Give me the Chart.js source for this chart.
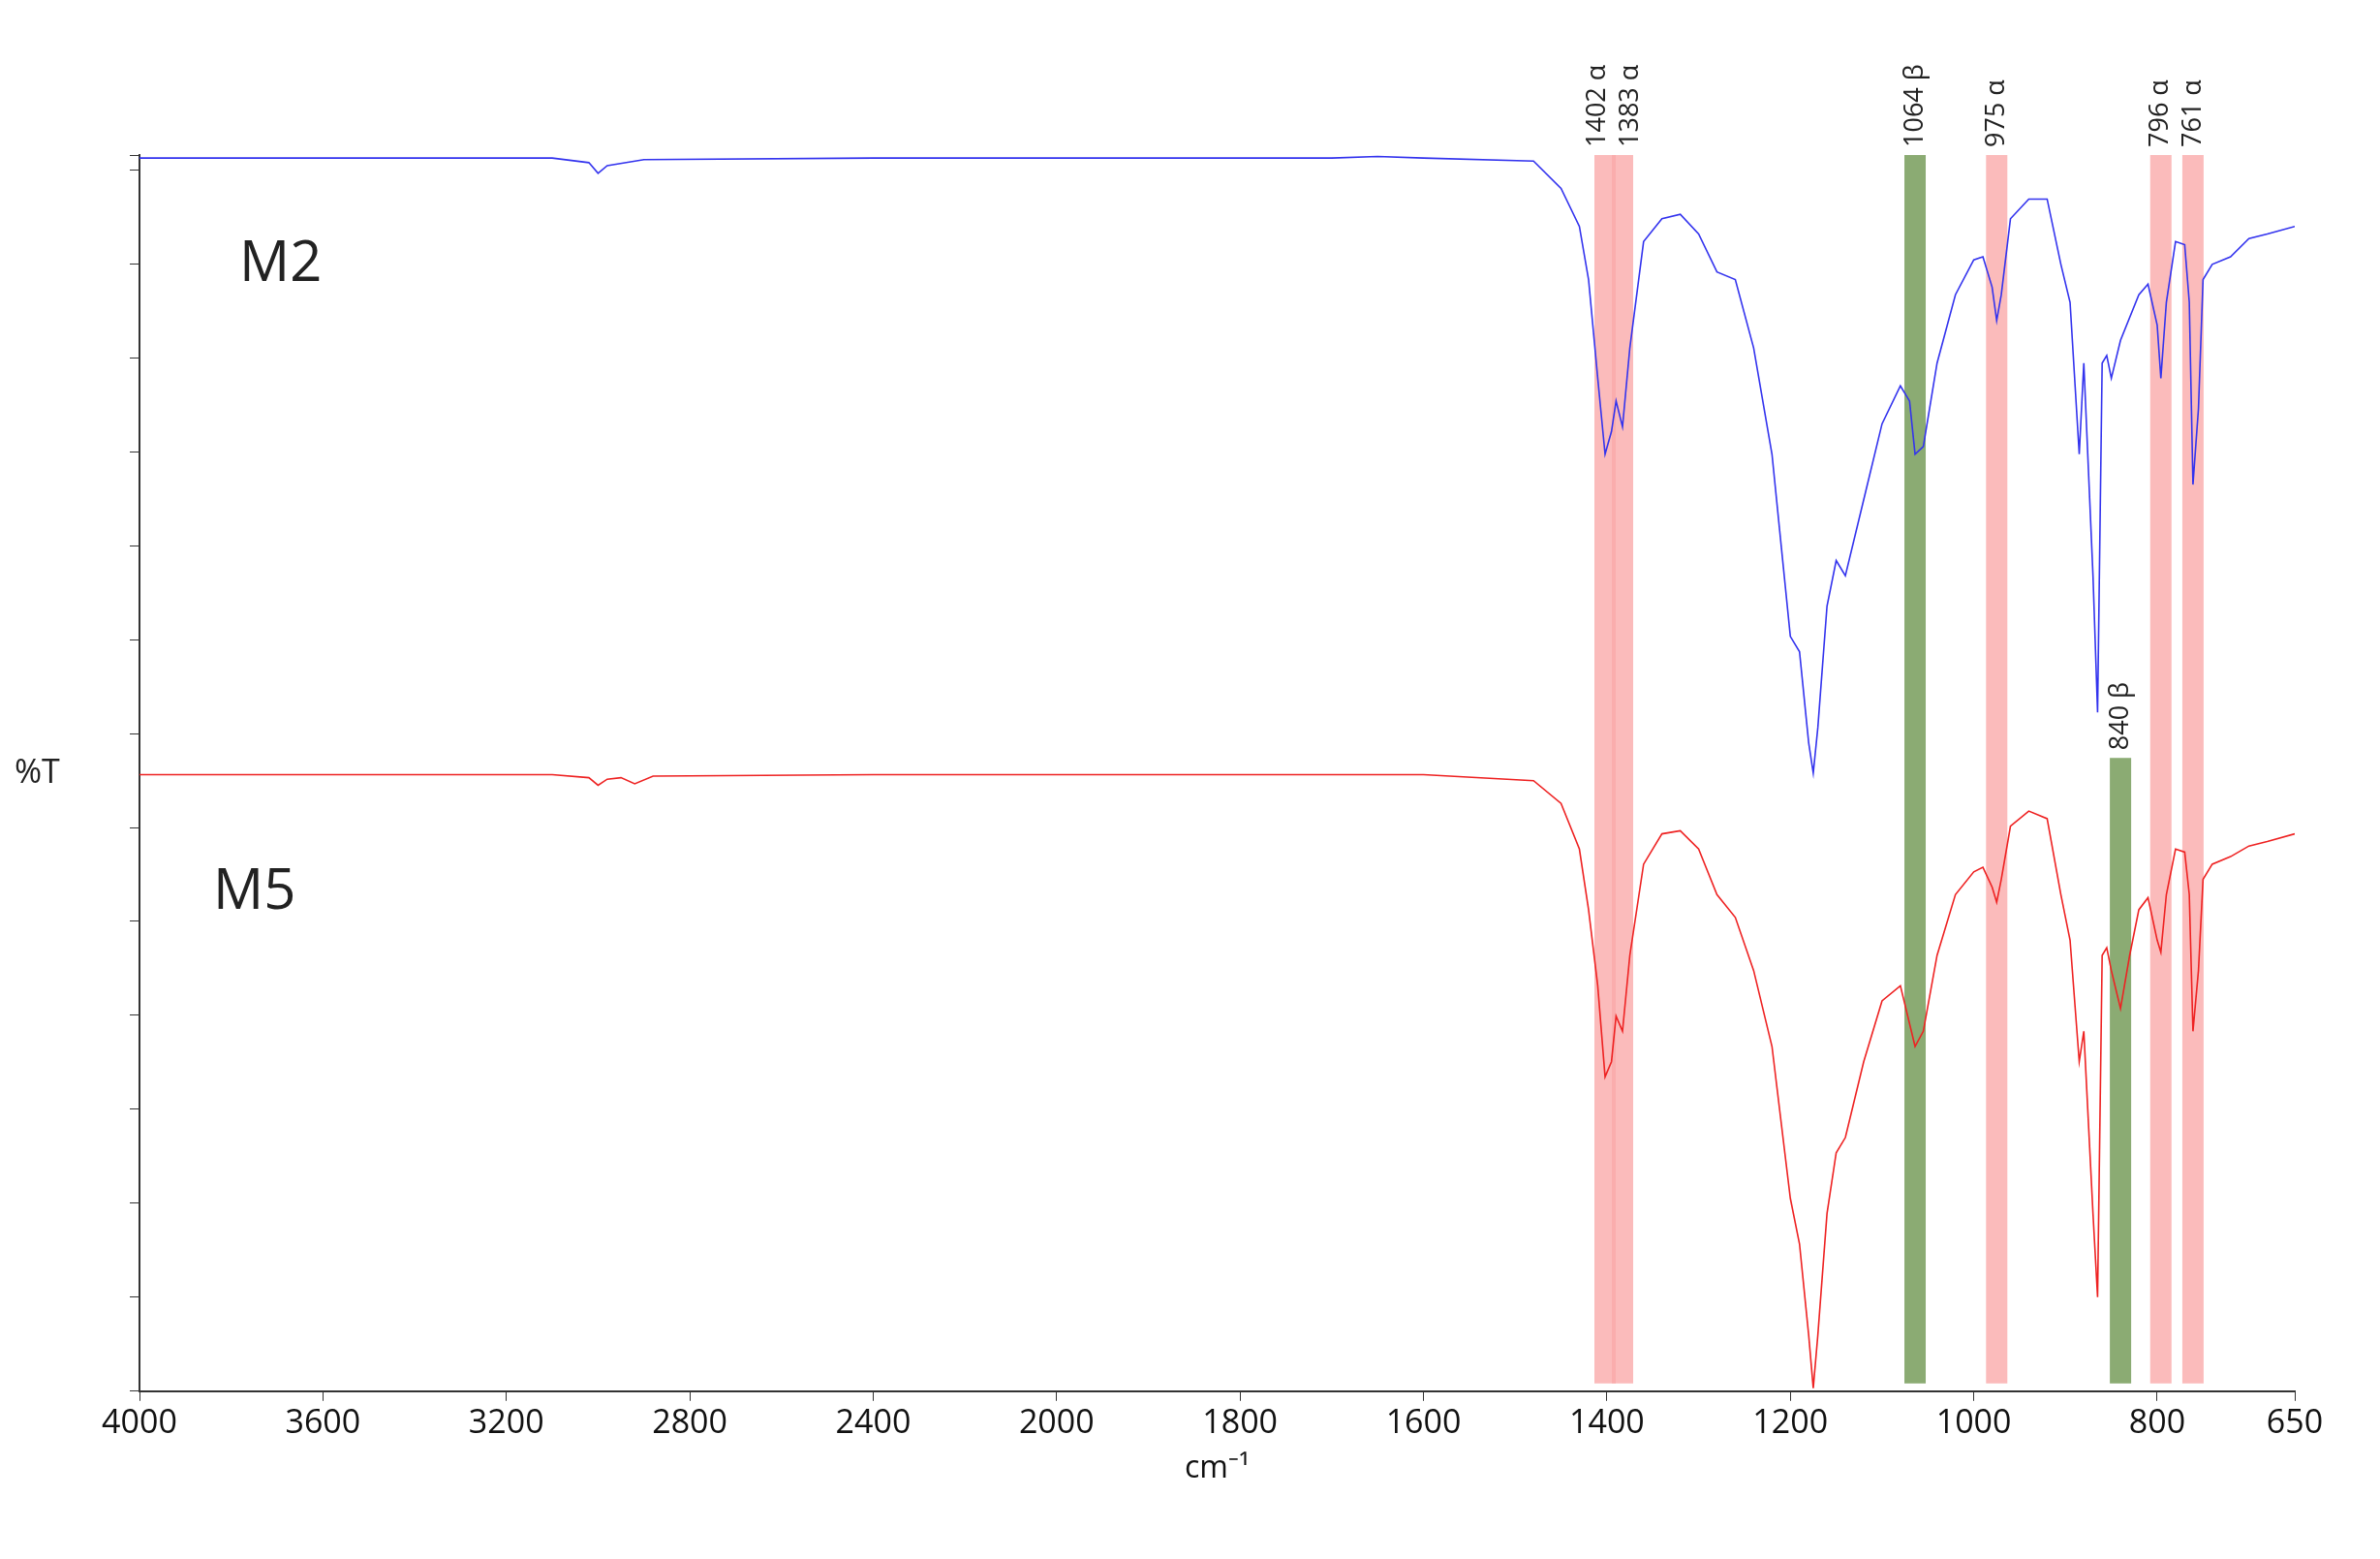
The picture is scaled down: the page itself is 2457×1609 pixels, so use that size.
<!DOCTYPE html>
<html>
<head>
<meta charset="utf-8">
<script src="https://cdn.jsdelivr.net/npm/chart.js@4.4.0/dist/chart.umd.min.js"></script>
<style>
  html, body { margin: 0; padding: 0; background: #fff; }
  #wrap { width: 2457px; height: 1609px; }
</style>
</head>
<body>
<div id="wrap"><canvas id="myChart"></canvas></div>
<script>
// wavenumbers (cm-1) and %T readings (offset spectra, 0-100 plot units)
const m2Wave = [4000, 3600, 3100, 3020, 3000, 2980, 2900, 2400, 2000, 1700, 1650, 1600, 1480, 1450, 1430, 1420, 1410, 1402, 1395, 1390, 1383, 1375, 1360, 1340, 1320, 1300, 1280, 1260, 1240, 1220, 1210, 1200, 1190, 1180, 1175, 1170, 1160, 1150, 1140, 1120, 1100, 1080, 1070, 1064, 1055, 1040, 1020, 1000, 990, 980, 975, 970, 960, 940, 920, 905, 895, 885, 880, 870, 865, 860, 855, 850, 840, 820, 810, 800, 796, 790, 780, 770, 765, 761, 755, 750, 740, 720, 700, 680, 650];
const m2Px = [105, 105, 105, 108, 115, 110, 106, 105, 105, 105, 104, 105, 107, 125, 150, 185, 250, 300, 285, 265, 282, 230, 160, 145, 142, 155, 180, 185, 230, 300, 360, 420, 430, 490, 510, 480, 400, 370, 380, 330, 280, 255, 265, 300, 295, 240, 195, 172, 170, 190, 212, 195, 145, 132, 132, 175, 200, 300, 240, 380, 470, 240, 235, 250, 225, 195, 188, 215, 250, 200, 160, 162, 200, 320, 270, 185, 175, 170, 158, 155, 150];
const m5Wave = [4000, 3600, 3100, 3020, 3000, 2980, 2950, 2920, 2880, 2400, 2000, 1700, 1600, 1480, 1450, 1430, 1420, 1410, 1402, 1395, 1390, 1383, 1375, 1360, 1340, 1320, 1300, 1280, 1260, 1240, 1220, 1200, 1190, 1180, 1175, 1170, 1160, 1150, 1140, 1120, 1100, 1080, 1064, 1055, 1040, 1020, 1000, 990, 980, 975, 970, 960, 940, 920, 905, 895, 885, 880, 870, 865, 860, 855, 850, 840, 830, 820, 810, 800, 796, 790, 780, 770, 765, 761, 755, 750, 740, 720, 700, 680, 650];
const m5Px = [511, 511, 511, 513, 518, 514, 513, 517, 512, 511, 511, 511, 511, 515, 530, 560, 600, 650, 710, 700, 670, 680, 630, 570, 550, 548, 560, 590, 605, 640, 690, 790, 820, 880, 915, 880, 800, 760, 750, 700, 660, 650, 690, 680, 630, 590, 575, 572, 585, 595, 580, 545, 535, 540, 590, 620, 700, 680, 800, 855, 630, 625, 640, 665, 630, 600, 592, 620, 628, 590, 560, 562, 590, 680, 640, 580, 570, 565, 558, 555, 550];
const xTickLabels = [4000, 3600, 3200, 2800, 2400, 2000, 1800, 1600, 1400, 1200, 1000, 800, 650];
const pinkBands = [1402, 1383, 975, 796, 761];
const greenBands = [1064, 840];
const bandLabels = ["1402 α", "1383 α", "975 α", "796 α", "761 α"];
const greenLabels = ["1064 β", "840 β"];

// split wavenumber axis: 400 cm-1 per unit above 2000, 200 cm-1 per unit below
const toU = w => w >= 2000 ? (4000 - w) / 400 : 5 + (2000 - w) / 200;
const toY = px => (917 - px) / 8.14;

const m2 = m2Wave.map((w, i) => ({ x: toU(w), y: toY(m2Px[i]) }));
const m5 = m5Wave.map((w, i) => ({ x: toU(w), y: toY(m5Px[i]) }));

const bandsPlugin = {
  id: "bands",
  beforeDatasetsDraw(chart) {
    const { ctx, chartArea: a, scales: { x, y } } = chart;
    const bw = 22;
    ctx.save();
    ctx.fillStyle = "rgba(250,170,170,0.8)";
    pinkBands.forEach(w => {
      const px = x.getPixelForValue(toU(w));
      ctx.fillRect(px - bw / 2, a.top, bw, a.bottom - a.top - 8);
    });
    ctx.fillStyle = "rgba(110,150,80,0.8)";
    greenBands.forEach((w, i) => {
      const px = x.getPixelForValue(toU(w));
      const top = i === 0 ? a.top : y.getPixelForValue(toY(500));
      ctx.fillRect(px - bw / 2, top, bw, a.bottom - top - 8);
    });
    ctx.restore();
  },
  afterDraw(chart) {
    const { ctx, chartArea: a, scales: { x, y } } = chart;
    ctx.save();
    ctx.fillStyle = "#222";
    ctx.font = "27px 'Open Sans', sans-serif";
    ctx.textBaseline = "middle";
    const lab = (w, s, topPx, dx) => {
      ctx.save();
      ctx.translate(x.getPixelForValue(toU(w)) + dx, topPx);
      ctx.rotate(-Math.PI / 2);
      ctx.textAlign = "left";
      ctx.fillText(s, 8, 0);
      ctx.restore();
    };
    pinkBands.forEach((w, i) => lab(w, bandLabels[i], a.top, i === 0 ? -8 : (i === 1 ? 8 : 0)));
    lab(1064, greenLabels[0], a.top, 0);
    lab(840, greenLabels[1], y.getPixelForValue(toY(500)), 0);
    ctx.font = "58px 'Open Sans', sans-serif";
    ctx.fillText("M2", 247, 273);
    ctx.fillText("M5", 220, 921);
    ctx.font = "34px 'Open Sans', sans-serif";
    ctx.fillText("%T", 15, y.getPixelForValue(50));
    ctx.restore();
  }
};

const ctx = document.getElementById("myChart").getContext("2d");

const myChart = new Chart(ctx, {
  type: "line",
  data: {
    datasets: [
      { label: "M2", data: m2, borderColor: "#3333ee", borderWidth: 1.6, pointRadius: 0, tension: 0 },
      { label: "M5", data: m5, borderColor: "#ee2222", borderWidth: 1.6, pointRadius: 0, tension: 0 },
    ],
  },
  plugins: [bandsPlugin],
  options: {
    responsive: true,
    maintainAspectRatio: false,
    animation: false,
    layout: { padding: { left: 134, right: 88, top: 160, bottom: 70 } },
    plugins: { legend: { display: false }, tooltip: { enabled: false } },
    scales: {
      x: {
        type: "linear",
        min: 0,
        max: toU(650),
        afterBuildTicks: axis => { axis.ticks = xTickLabels.map(w => ({ value: toU(w) })); },
        ticks: {
          autoSkip: false,
          maxRotation: 0,
          color: "#111",
          font: { size: 34, family: "'Open Sans', sans-serif" },
          callback: (v, i) => xTickLabels[i],
        },
        grid: { drawOnChartArea: false, color: "#333", tickLength: 10 },
        border: { color: "#333", width: 2 },
        title: { display: true, text: "cm⁻¹", color: "#111", font: { size: 32, family: "'Open Sans', sans-serif" } },
      },
      y: {
        min: 0,
        max: 100,
        ticks: { display: false, stepSize: 7.6 },
        grid: { drawOnChartArea: false, color: "#333", tickLength: 10 },
        border: { color: "#333", width: 2 },
      },
    },
  },
});
</script>
</body>
</html>
